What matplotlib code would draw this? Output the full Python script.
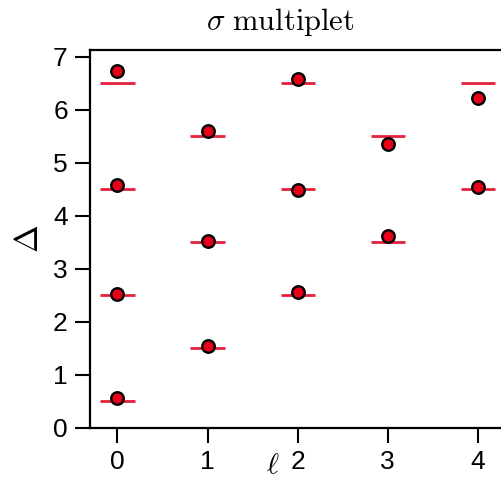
import matplotlib
matplotlib.use('Agg')
import matplotlib.pyplot as plt
import matplotlib.transforms as mtransforms

# spin values l, level positions (lines) and measured points
line_l = [0, 0, 0, 0, 1, 1, 1, 2, 2, 2, 3, 3, 4, 4]
line_d = [0.5, 2.5, 4.5, 6.5, 1.5, 3.5, 5.5, 2.5, 4.5, 6.5, 3.5, 5.5, 4.5, 6.5]

pt_l = [0, 0, 0, 0, 1, 1, 1, 2, 2, 2, 3, 3, 4, 4]
pt_d = [0.55, 2.52, 4.58, 6.74, 1.54, 3.52, 5.60, 2.56, 4.48, 6.58, 3.62, 5.36, 4.54, 6.23]

xticks = [0, 1, 2, 3, 4]
yticks = [0, 1, 2, 3, 4, 5, 6, 7]

plt.rcParams['mathtext.fontset'] = 'cm'
plt.rcParams['font.family'] = ['Liberation Sans', 'DejaVu Sans']

fig = plt.figure(figsize=(5.01, 4.83), dpi=100)
ax = fig.add_axes([90/501, 55.5/483, 440/501, 377.5/483])

half = 0.19
ax.hlines(line_d, [l - half for l in line_l], [l + half for l in line_l],
          colors='#e3203c', linewidth=2.0, zorder=2)
ax.plot(pt_l, pt_d, 'o', markersize=9, markerfacecolor='#e8001a',
        markeredgecolor='black', markeredgewidth=1.7, zorder=3)

ax.set_xlim(-0.305, 4.58)
ax.set_ylim(0, 7.13)
ax.set_xticks(xticks)
ax.set_yticks(yticks)
ax.tick_params(direction='out', length=11, width=1.5, labelsize=19, pad=5)
for s in ax.spines.values():
    s.set_linewidth(1.6)

ax.set_ylabel(r'$\Delta$', fontsize=24, labelpad=6)
ax.set_xlabel(r'$\ell$', fontsize=21)
ax.xaxis.set_label_coords(1.72, -0.062,
                          transform=mtransforms.blended_transform_factory(ax.transData, ax.transAxes))

fig.text(280/501, 1 - 22/483, r'$\sigma\ \mathrm{multiplet}$', fontsize=22,
         ha='center', va='center')

fig.savefig('out.png', dpi=100)
